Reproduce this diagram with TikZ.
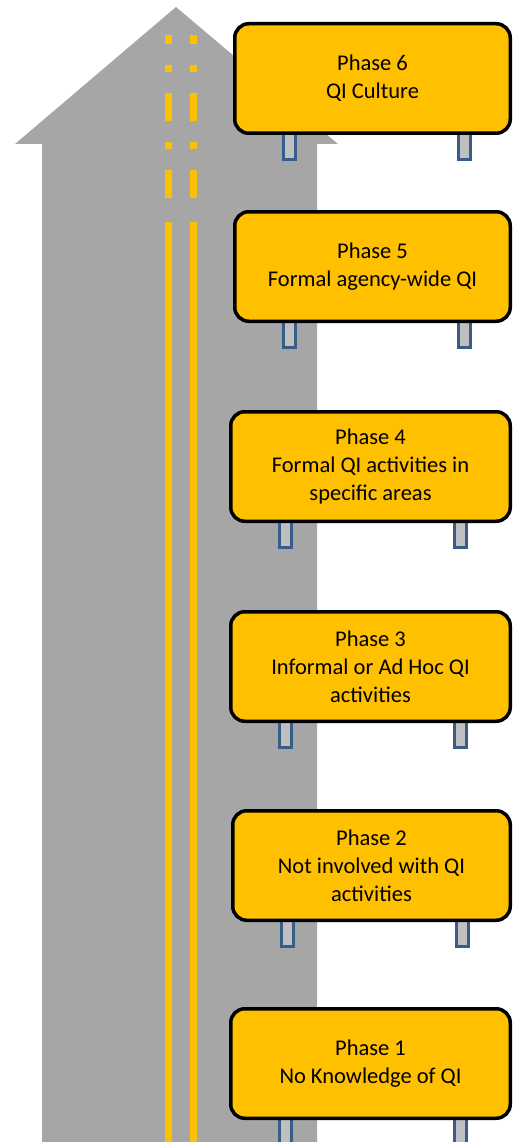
\documentclass[tikz,border=0pt]{standalone}
\usepackage{fontspec}
\setmainfont{Carlito}
\definecolor{roadgrey}{HTML}{A6A6A6}
\definecolor{laneyellow}{HTML}{FFC000}
\definecolor{postblue}{HTML}{385D8A}
\definecolor{postgrey}{HTML}{C0C0C0}
\tikzset{
  sign/.style={draw=black, line width=3.5pt, fill=laneyellow, rounded corners=14pt,
    minimum height=109.5pt, align=center, inner sep=0pt, anchor=north west,
    font=\fontsize{22.5}{28}\selectfont},
  signpost/.style={draw=postblue, fill=postgrey, line width=3pt}
}
\begin{document}
\begin{tikzpicture}[x=1pt,y=-1pt]
  \useasboundingbox (0,0) rectangle (513,1142);

  % road arrow
  \fill[roadgrey] (176,7) -- (338,144) -- (317,144) -- (317,1142)
    -- (42,1142) -- (42,144) -- (15,144) -- cycle;

  % centre lines, broken near the tip
  \foreach \a/\b in {35/44, 65/72, 93/121, 142/149, 170/198, 222/1142} {
    \fill[laneyellow] (165,\a) rectangle (172,\b);
    \fill[laneyellow] (190,\a) rectangle (197,\b);
  }

  % signs with their posts
  \foreach \n/\l/\t/\txt in {6/233/22/{Phase 6\\QI Culture},
      5/233/210/{Phase 5\\Formal agency-wide QI},
      4/229/410/{Phase 4\\Formal QI activities in\\specific areas},
      3/229/610/{Phase 3\\Informal or Ad Hoc QI\\activities},
      2/231/809/{Phase 2\\Not involved with QI\\activities},
      1/229/1007/{Phase 1\\No Knowledge of QI}} {
    \draw[signpost] (\l+50.5,\t+90) rectangle (\l+62.5,\t+137.5);
    \draw[signpost] (\l+225,\t+90) rectangle (\l+237,\t+137.5);
    \pgfmathsetmacro{\w}{508.5-\l}
    \node[sign, minimum width=\w pt] (phase\n) at (\l,\t) {\txt};
  }
\end{tikzpicture}
\end{document}
